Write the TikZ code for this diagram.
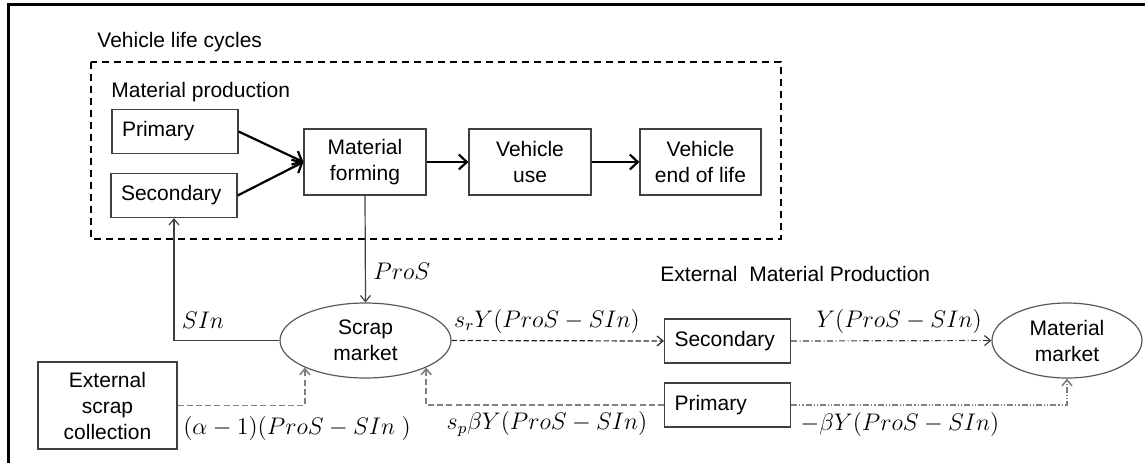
\documentclass[tikz,border=0pt]{standalone}
\usepackage{fontspec}
\setmainfont{Liberation Sans}
\usetikzlibrary{arrows.meta,shapes.geometric}
\begin{document}
\begin{tikzpicture}[x=0.5pt,y=-0.5pt,
  font=\fontsize{10.5}{13}\selectfont,
  box/.style={draw=black!75,line width=0.6pt,align=center,inner sep=0pt},
  lbox/.style={box,align=left,text width=53pt,inner xsep=5pt,minimum height=22pt},
  mkt/.style={ellipse,draw=black!65,line width=0.6pt,align=center,inner sep=0pt,minimum height=37.5pt},
  flow/.style={-{Straight Barb[length=4pt,width=7.5pt]},line width=1.1pt},
  tip/.style={-{Straight Barb[length=3pt,width=5pt]}},
  sflow/.style={tip,draw=black!75,line width=0.6pt},
  gdash/.style={tip,draw=black!50,line width=0.8pt,dash pattern=on 3pt off 1.6pt},
  kdash/.style={tip,draw=black!85,line width=0.6pt,dash pattern=on 2.6pt off 1.4pt},
  dashdot/.style={tip,draw=black!75,line width=0.6pt,dash pattern=on 3pt off 1.2pt on 0.6pt off 1.2pt},
  dashdotdot/.style={tip,draw=black!50,line width=0.8pt,dash pattern=on 3pt off 1pt on 0.6pt off 1pt on 0.6pt off 1pt},
  lbl/.style={font=\fontsize{11.5}{14}\selectfont,inner sep=0pt}]
\useasboundingbox (0,0) rectangle (1145,463);
% frame and life cycle region
\draw[line width=1.5pt] (8,463) -- (8,4) -- (1145,4);
\draw[line width=1pt,dash pattern=on 3.5pt off 2.5pt] (91,62) rectangle (781,239);
\node[anchor=west,inner sep=0pt] (lifett) at (97,42) {Vehicle life cycles};
\node[anchor=west,inner sep=0pt] (prodtt) at (111,92) {Material production};
\node[anchor=west,inner sep=0pt] (extt) at (660,274) {External\hspace{3pt} Material Production};
% boxes
\node[lbox] (prim) at (175,131.5) {Primary};
\node[lbox] (sec) at (174,195.5) {Secondary};
\node[box,minimum width=61pt,minimum height=33pt] (form) at (365,162) {Material\\forming};
\node[box,minimum width=61pt,minimum height=33pt] (use) at (530,162) {Vehicle\\use};
\node[box,minimum width=60.5pt,minimum height=33pt] (eol) at (700.5,162) {Vehicle\\end of life};
\node[mkt,minimum width=85.5pt] (scrap) at (365.5,340.5) {Scrap\\market};
\node[mkt,minimum width=75pt] (mmkt) at (1067,340.5) {Material\\market};
\node[lbox] (esec) at (727.5,341) {Secondary};
\node[lbox] (eprim) at (727.5,405) {Primary};
\node[box,minimum width=69.5pt,minimum height=43.5pt] (esc) at (107.5,405.5) {External\\scrap\\collection};
% connectors
\draw[flow] (prim.east) -- (form.west);
\draw[flow] (sec.east) -- (form.west);
\draw[flow] (form) -- (use);
\draw[flow] (use) -- (eol);
\draw[sflow] (form.south) -- (scrap.north);
\draw[sflow] (scrap.west) -| (sec.south);
\draw[kdash] (scrap.east) -- (esec.west);
\draw[dashdot] (esec.east) -- (mmkt.west);
\draw[gdash] (eprim.west) -| (scrap.-24);
\draw[gdash] (esc.east) -| (scrap.-156);
\draw[dashdotdot] (eprim.east) -| (mmkt.south);
% flow labels
\node[lbl,anchor=west] (lpros) at (373,271) {$ProS$};
\node[lbl] (lsin) at (203,320) {$SIn$};
\node[lbl] (lsr) at (547,321) {$s_rY(ProS-SIn)$};
\node[lbl] (ly) at (899,321) {$Y(ProS-SIn)$};
\node[lbl] (lsp) at (547,424) {$s_p\beta Y(ProS-SIn)$};
\node[lbl] (lby) at (900,424) {$-\beta Y(ProS-SIn)$};
\node[lbl] (lal) at (297,428) {$(\alpha-1)(ProS-SIn\ )$};
\end{tikzpicture}
\end{document}
